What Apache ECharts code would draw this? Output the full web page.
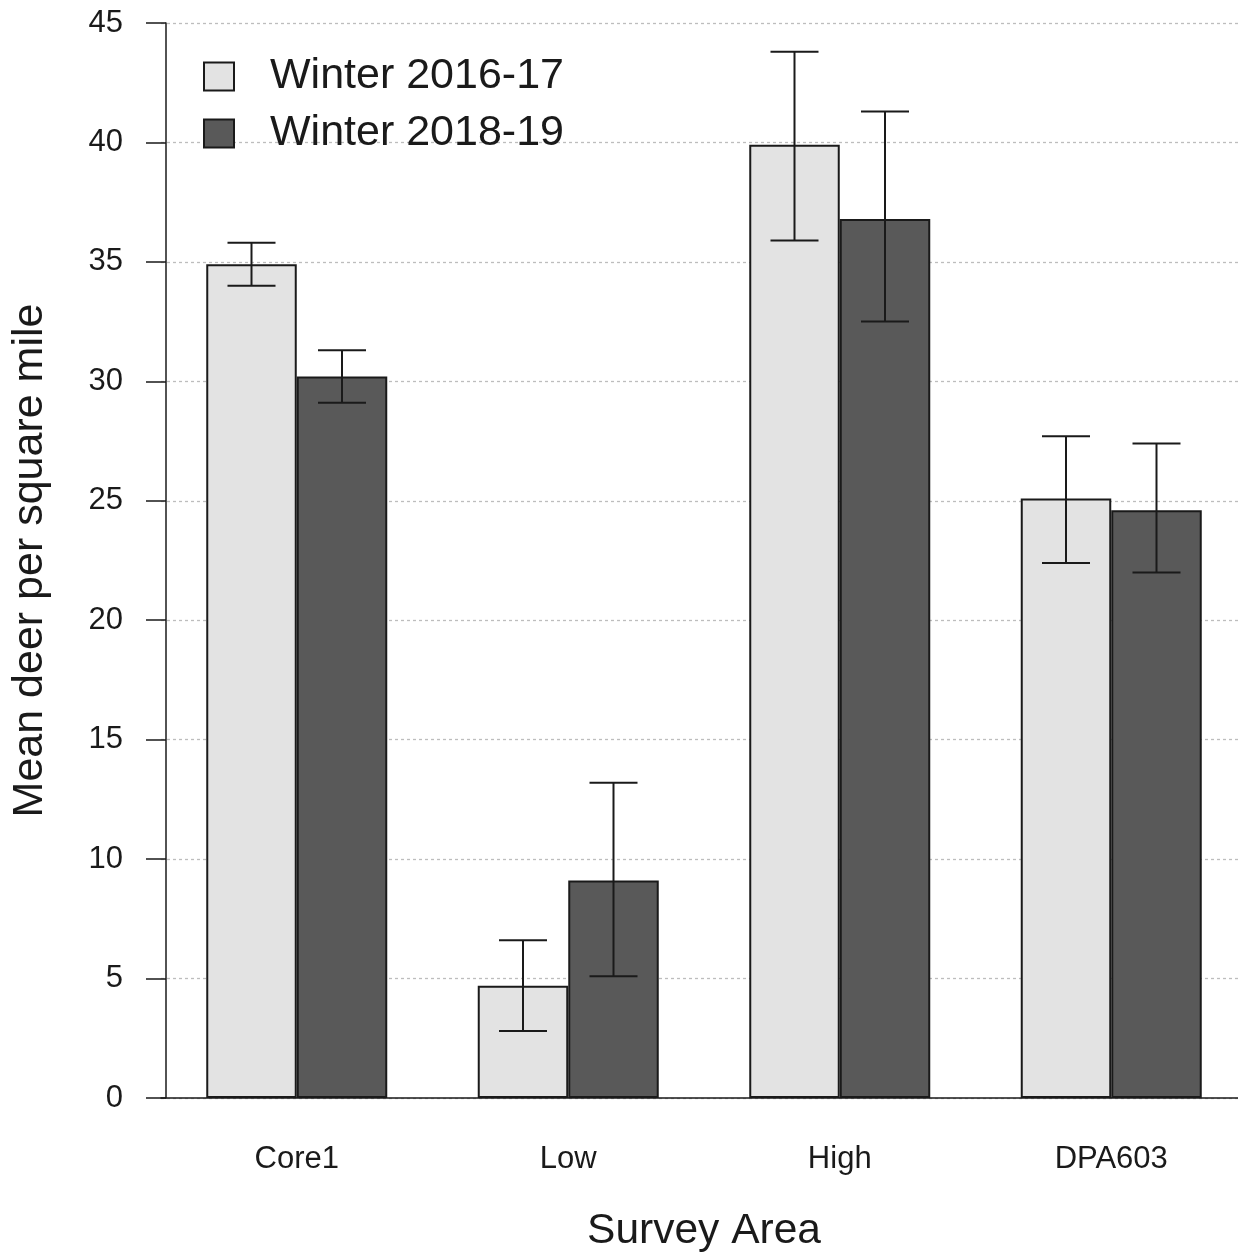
<!DOCTYPE html>
<html>
<head>
<meta charset="utf-8">
<script src="https://cdn.jsdelivr.net/npm/echarts@6/dist/echarts.min.js"></script>
<style>
html,body{margin:0;padding:0;background:#fff;}
#chart{width:1238px;height:1256px;}
</style>
</head>
<body>
<div id="chart"></div>
<script>
// ---- data ----
const categories = ['Core1', 'Low', 'High', 'DPA603'];
const seriesNames = ['Winter 2016-17', 'Winter 2018-19'];
const means2016 = [34.9, 4.7, 39.9, 25.1];
const lower2016 = [34.0, 2.8, 35.9, 22.4];
const upper2016 = [35.8, 6.6, 43.8, 27.7];
const means2018 = [30.2, 9.1, 36.8, 24.6];
const lower2018 = [29.1, 5.1, 32.5, 22.0];
const upper2018 = [31.3, 13.2, 41.3, 27.4];
const yTicks = [0, 5, 10, 15, 20, 25, 30, 35, 40, 45];

// ---- style ----
const BAR_W = 90.5;
const CAP_W = 48;
const colors = ['#e3e3e3', '#595959'];
const ink = '#1a1a1a';
const font = 'Liberation Sans, Arial, sans-serif';

const chart = echarts.init(document.getElementById('chart'), null, {renderer: 'canvas'});

function errData(lo, hi) {
  return categories.map((c, i) => [i, lo[i], hi[i]]);
}
function errSeries(idx, lo, hi) {
  const dir = idx === 0 ? -1 : 1;
  return {
    type: 'custom',
    name: seriesNames[idx] + ' err',
    z: 10,
    silent: true,
    clip: false,
    encode: {x: 0, y: [1, 2]},
    data: errData(lo, hi),
    renderItem: function (params, api) {
      const c = api.value(0);
      const pLo = api.coord([c, api.value(1)]);
      const pHi = api.coord([c, api.value(2)]);
      const x = pLo[0] + dir * BAR_W / 2;
      const st = {stroke: ink, lineWidth: 2};
      return {
        type: 'group',
        children: [
          {type: 'line', shape: {x1: x, y1: pLo[1], x2: x, y2: pHi[1]}, style: st},
          {type: 'line', shape: {x1: x - CAP_W / 2, y1: pLo[1], x2: x + CAP_W / 2, y2: pLo[1]}, style: st},
          {type: 'line', shape: {x1: x - CAP_W / 2, y1: pHi[1], x2: x + CAP_W / 2, y2: pHi[1]}, style: st}
        ]
      };
    }
  };
}

const option = {
  animation: false,
  backgroundColor: '#fff',
  textStyle: {fontFamily: font},
  grid: {left: 161, width: 1086, top: 23, height: 1075, containLabel: false, outerBoundsMode: 'none'},
  legend: {
    data: seriesNames,
    orient: 'vertical',
    left: 203,
    top: 55,
    padding: 0,
    itemWidth: 30,
    itemHeight: 28,
    itemGap: 14,
    icon: 'rect',
    textStyle: {fontSize: 43, color: ink, fontFamily: font, padding: [0, 0, 0, 31]},
    selectedMode: false
  },
  xAxis: {
    type: 'category',
    data: categories,
    boundaryGap: true,
    axisLine: {show: true, lineStyle: {color: ink, width: 1.5}},
    axisTick: {show: false},
    axisLabel: {fontSize: 31, color: ink, margin: 46, fontFamily: font},
    name: 'Survey Area',
    nameLocation: 'middle',
    nameGap: 112,
    nameTextStyle: {fontSize: 42.5, color: ink, fontFamily: font},
    splitLine: {show: false}
  },
  yAxis: {
    type: 'value',
    min: yTicks[0],
    max: yTicks[yTicks.length - 1],
    interval: yTicks[1] - yTicks[0],
    offset: -5,
    axisLine: {show: true, lineStyle: {color: ink, width: 1.5}},
    axisTick: {show: true, length: 20, lineStyle: {color: ink, width: 1.5}},
    axisLabel: {fontSize: 31, color: ink, margin: 43, fontFamily: font},
    splitLine: {show: true, lineStyle: {color: '#bdbdbd', width: 1.3, type: [3, 3]}},
    name: 'Mean deer per square mile',
    nameLocation: 'middle',
    nameRotate: 90,
    nameGap: 114,
    nameTextStyle: {fontSize: 43, color: ink, fontFamily: font}
  },
  series: [
    {
      type: 'bar',
      name: seriesNames[0],
      data: means2016,
      barWidth: BAR_W,
      barGap: '0%',
      itemStyle: {color: colors[0], borderColor: ink, borderWidth: 2},
      z: 3
    },
    {
      type: 'bar',
      name: seriesNames[1],
      data: means2018,
      barWidth: BAR_W,
      barGap: '0%',
      itemStyle: {color: colors[1], borderColor: ink, borderWidth: 2},
      z: 3
    },
    errSeries(0, lower2016, upper2016),
    errSeries(1, lower2018, upper2018)
  ]
};
chart.setOption(option);
</script>
</body>
</html>
